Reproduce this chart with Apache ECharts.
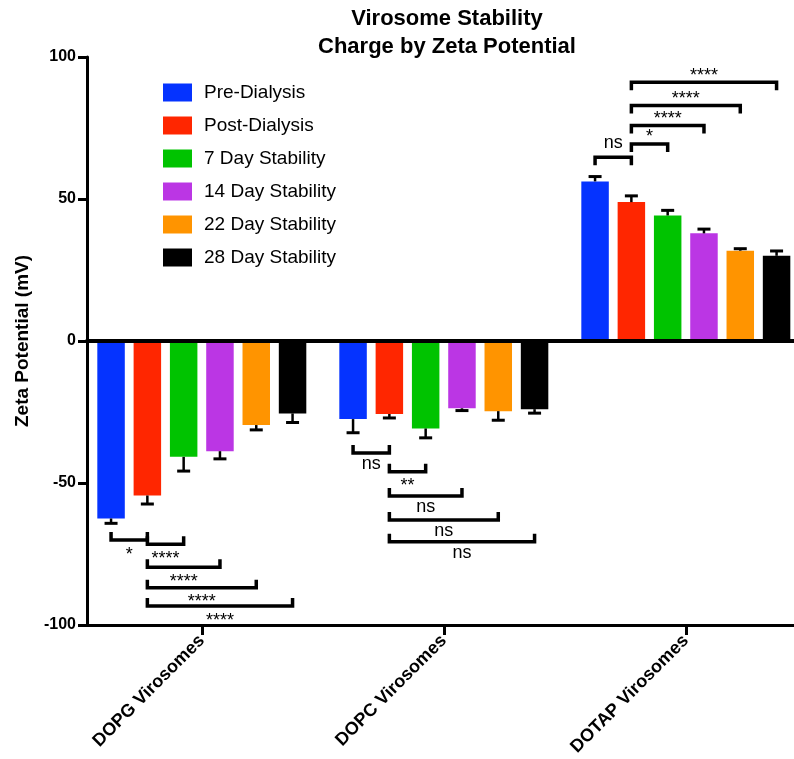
<!DOCTYPE html>
<html>
<head>
<meta charset="utf-8">
<script src="https://cdn.jsdelivr.net/npm/echarts@6/dist/echarts.min.js"></script>
<style>
html,body{margin:0;padding:0;background:#fff;}
#chart{width:794px;height:759px;}
</style>
</head>
<body>
<div id="chart"></div>
<script>
// ---------- data ----------
const groups = ['DOPG Virosomes', 'DOPC Virosomes', 'DOTAP Virosomes'];
const seriesNames = ['Pre-Dialysis', 'Post-Dialysis', '7 Day Stability', '14 Day Stability', '22 Day Stability', '28 Day Stability'];
const preDialysis  = [-62.5, -27.5, 56.2];
const postDialysis = [-54.4, -25.7, 48.9];
const day7         = [-40.8, -30.8, 44.2];
const day14        = [-38.8, -23.7, 37.9];
const day22        = [-29.6, -24.7, 31.8];
const day28        = [-25.5, -24.0, 30.0];
const preErr  = [1.7, 4.8, 1.7];
const postErr = [3.0, 1.4, 2.2];
const day7Err = [5.0, 3.3, 1.8];
const day14Err = [2.7, 0.8, 1.5];
const day22Err = [1.7, 3.2, 0.7];
const day28Err = [3.2, 1.4, 1.7];
const yTicks = [-100, -50, 0, 50, 100];

// significance brackets: group, bar from, bar to, level (mV), label
const bracketGroup = [0, 0, 0, 0, 0, 1, 1, 1, 1, 1, 2, 2, 2, 2, 2];
const bracketFrom  = [0, 1, 1, 1, 1, 0, 1, 1, 1, 1, 0, 1, 1, 1, 1];
const bracketTo    = [1, 2, 3, 4, 5, 1, 2, 3, 4, 5, 1, 2, 3, 4, 5];
const bracketLevel = [-70.1, -71.6, -79.7, -86.9, -93.3, -39.4, -46.0, -54.6, -63.0, -70.7, 64.7, 69.4, 75.9, 82.9, 91.1];
const bracketLabel = ['*', '****', '****', '****', '****', 'ns', '**', 'ns', 'ns', 'ns', 'ns', '*', '****', '****', '****'];

// ---------- layout / style ----------
const values = [preDialysis, postDialysis, day7, day14, day22, day28];
const errors = [preErr, postErr, day7Err, day14Err, day22Err, day28Err];
const colors = ['#0533ff', '#ff2600', '#00c300', '#bb36e4', '#ff9400', '#000000'];
const FONT = '"Liberation Sans", Arial, Helvetica, sans-serif';
const BAR_PITCH = 0.15;     // in group units
const BAR_W = 0.1136;       // in group units
const X_MIN = -0.4744, X_MAX = 2.447;
const barCenter = (g, k) => g + (k - 2.5) * BAR_PITCH;

const chart = echarts.init(document.getElementById('chart'), null, {renderer: 'canvas'});

const barSeries = seriesNames.map((name, k) => ({
  name: name,
  type: 'custom',
  z: 3,
  itemStyle: {color: colors[k]},
  data: groups.map((g, i) => [i, values[k][i], errors[k][i]]),
  encode: {x: 0, y: 1},
  renderItem: function (params, api) {
    const g = api.value(0), v = api.value(1), e = api.value(2);
    const xc = barCenter(g, k);
    const a = api.coord([xc - BAR_W / 2, 0]);
    const b = api.coord([xc + BAR_W / 2, v]);
    const top = api.coord([xc, v]);
    const end = api.coord([xc, v + Math.sign(v) * e]);
    return {
      type: 'group',
      children: [
        {type: 'rect', shape: {x: a[0], y: Math.min(a[1], b[1]), width: b[0] - a[0], height: Math.abs(b[1] - a[1])},
          style: {fill: colors[k]}},
        {type: 'line', shape: {x1: top[0], y1: top[1], x2: end[0], y2: end[1]},
          style: {stroke: '#000', lineWidth: 2.5}},
        {type: 'line', shape: {x1: end[0] - 6.5, y1: end[1], x2: end[0] + 6.5, y2: end[1]},
          style: {stroke: '#000', lineWidth: 3}}
      ]
    };
  }
}));

const LABEL_FS = 18, GAP = 8, TICK = 8, MID = 0.3465;
const bracketSeries = {
  name: 'brackets',
  type: 'custom',
  z: 4,
  silent: true,
  data: bracketGroup.map((g, i) => [g, bracketLevel[i], bracketFrom[i], bracketTo[i], i]),
  encode: {x: 0, y: 1},
  renderItem: function (params, api) {
    const g = api.value(0), lvl = api.value(1), f = api.value(2), t = api.value(3), idx = api.value(4);
    const label = bracketLabel[idx];
    const p1 = api.coord([barCenter(g, f), lvl]);
    const p2 = api.coord([barCenter(g, t), lvl]);
    const below = lvl < 0;
    const dir = below ? -1 : 1; // ticks toward bars
    const y = p1[1];
    const isNs = label === 'ns';
    const inkTop = isNs ? 0.53 : 0.72, inkBottom = isNs ? 0 : 0.43;
    const mid = below ? y + GAP + inkTop * LABEL_FS - MID * LABEL_FS
                      : y - GAP + inkBottom * LABEL_FS - MID * LABEL_FS;
    return {
      type: 'group',
      children: [
        {type: 'polyline', shape: {points: [[p1[0], y + dir * TICK], [p1[0], y], [p2[0], y], [p2[0], y + dir * TICK]]},
          style: {stroke: '#000', lineWidth: 3.5, fill: null, lineJoin: 'miter'}},
        {type: 'text', style: {text: label, x: (p1[0] + p2[0]) / 2, y: mid, align: 'center', verticalAlign: 'middle',
          fill: '#000', fontSize: LABEL_FS, fontFamily: FONT}}
      ]
    };
  }
};

const option = {
  animation: false,
  color: colors,
  title: {
    text: 'Virosome Stability\nCharge by Zeta Potential',
    left: 442, top: 0, textAlign: 'center',
    textStyle: {fontFamily: FONT, fontWeight: 'bold', fontSize: 22, lineHeight: 28, color: '#000'}
  },
  legend: {
    orient: 'vertical', left: 163, top: 83, padding: 0,
    itemWidth: 29, itemHeight: 18, itemGap: 14, icon: 'rect',
    data: seriesNames,
    textStyle: {fontFamily: FONT, fontSize: 19, lineHeight: 18, color: '#000', padding: [0, 0, 0, 7]}
  },
  grid: {left: 87, right: 0, top: 57, bottom: 134, containLabel: false, outerBoundsMode: 'none'},
  xAxis: [
    {
      type: 'value', min: X_MIN, max: X_MAX, position: 'bottom', z: 10,
      axisLine: {show: true, onZero: false, lineStyle: {color: '#000', width: 3}},
      axisTick: {show: true, customValues: [0, 1, 2], length: 10, lineStyle: {color: '#000', width: 3}},
      axisLabel: {show: true, customValues: [0, 1, 2], rotate: 45, margin: 13,
        formatter: v => groups[Math.round(v)] || '',
        fontFamily: FONT, fontWeight: 'bold', fontSize: 18, color: '#000'},
      splitLine: {show: false}
    },
    {
      type: 'value', min: X_MIN, max: X_MAX, position: 'top', z: 10,
      axisLine: {show: true, onZero: true, lineStyle: {color: '#000', width: 4}},
      axisTick: {show: false}, axisLabel: {show: false}, splitLine: {show: false}
    }
  ],
  yAxis: {
    type: 'value', min: yTicks[0], max: yTicks[yTicks.length - 1], interval: 50, z: 10,
    name: 'Zeta Potential (mV)', nameLocation: 'middle', nameGap: 55, nameRotate: 90,
    nameTextStyle: {fontFamily: FONT, fontWeight: 'bold', fontSize: 19, color: '#000'},
    axisLine: {show: true, onZero: false, lineStyle: {color: '#000', width: 3}},
    axisTick: {show: true, inside: false, length: 9, lineStyle: {color: '#000', width: 3}},
    axisLabel: {margin: 11, fontFamily: FONT, fontWeight: 'bold', fontSize: 16, color: '#000'},
    splitLine: {show: false}
  },
  series: barSeries.concat([bracketSeries])
};
chart.setOption(option);
</script>
</body>
</html>
